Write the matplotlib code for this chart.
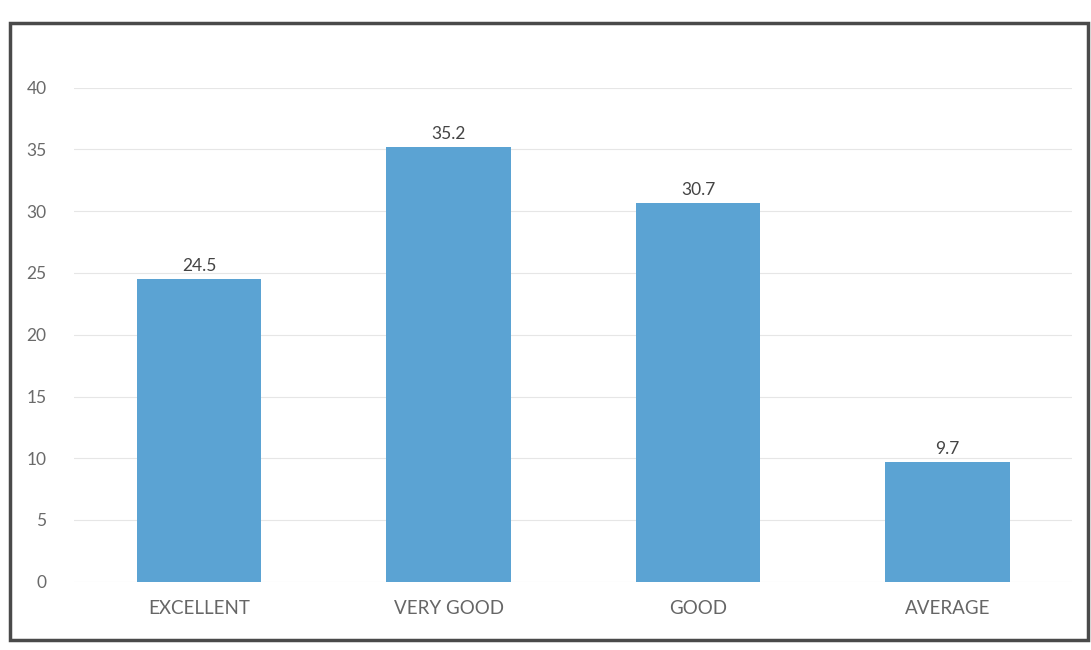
import matplotlib.pyplot as plt
from matplotlib.patches import Rectangle

categories = ["EXCELLENT", "VERY GOOD", "GOOD", "AVERAGE"]
values = [24.5, 35.2, 30.7, 9.7]
yticks = [0, 5, 10, 15, 20, 25, 30, 35, 40]

plt.rcParams['font.family'] = ['Lato', 'DejaVu Sans']

fig = plt.figure(figsize=(10.91, 6.5), dpi=100)
ax = fig.add_axes([0.068, 0.105, 0.915, 0.76])

bar_color = "#5BA3D3"
bars = ax.bar(range(len(categories)), values, width=0.5, color=bar_color, zorder=2)

for b, v in zip(bars, values):
    ax.text(b.get_x() + b.get_width() / 2, v + 0.4, f"{v}",
            ha="center", va="bottom", fontsize=12.5, color="#444444")

ax.set_xlim(-0.5, len(categories) - 0.5)
ax.set_ylim(0, 40)
ax.set_yticks(yticks)
ax.set_xticks(range(len(categories)))
ax.set_xticklabels(categories, fontsize=13.5, color="#666666")
ax.tick_params(axis="y", labelsize=12.5, labelcolor="#6a6a6a", length=0, pad=20)
ax.tick_params(axis="x", length=0, pad=13)
ax.grid(axis="y", color="#e6e6e6", linewidth=0.8, zorder=0)
for s in ax.spines.values():
    s.set_visible(False)

# outer frame of the chart
frame = Rectangle((0.009, 0.015), 0.988, 0.95, transform=fig.transFigure,
                  fill=False, edgecolor="#4a4a4a", linewidth=2.5)
fig.patches.append(frame)

fig.savefig("out.png", dpi=100)
